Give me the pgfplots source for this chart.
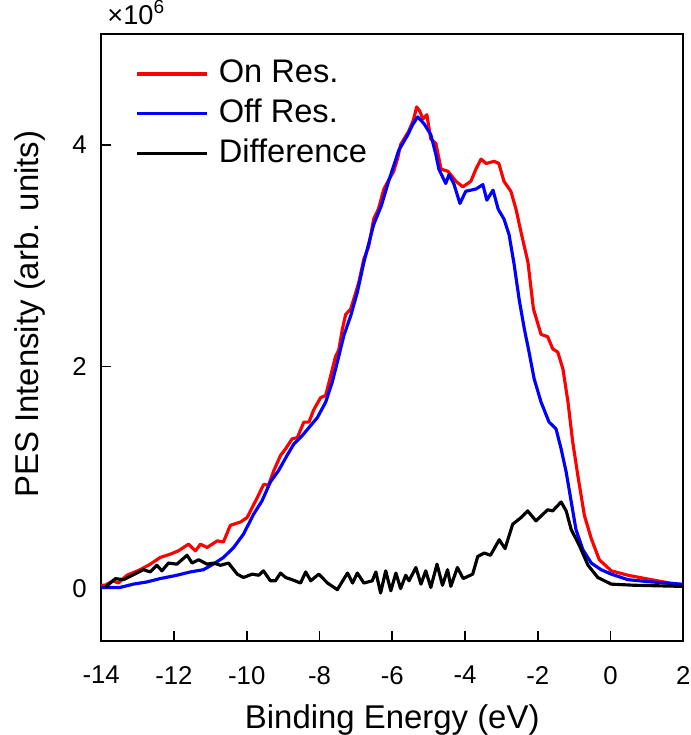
\documentclass[border=0pt]{standalone}
\usepackage{pgfplots}
\pgfplotsset{compat=1.18}
\usepackage{fontspec}
\setmainfont{Liberation Sans}
\definecolor{onres}{RGB}{255,0,0}
\definecolor{offres}{RGB}{0,0,255}
\begin{document}
\begin{tikzpicture}
\begin{axis}[
  name=ax,
  scale only axis,
  width=203.4pt, height=212.1pt,
  xmin=-14, xmax=2, ymin=-0.47, ymax=5.0,
  xtick={-14,-12,-10,-8,-6,-4,-2,0,2},
  ytick={0,2,4},
  xtick pos=bottom, ytick pos=left,
  tick align=inside,
  major tick length=3.5pt,
  axis line style={line width=0.6pt},
  tick style={line width=0.6pt, black},
  /pgf/number format/assume math mode=true,
  ticklabel style={font=\fontsize{9}{11}\selectfont, inner sep=0pt},
  xticklabel style={anchor=north, yshift=-8.7pt},
  yticklabel style={anchor=east, xshift=-4.9pt},
  xlabel={Binding Energy (eV)},
  ylabel={PES Intensity (arb. units)},
  label style={font=\fontsize{11.5}{13}\selectfont, inner sep=0pt},
  xlabel style={at={(axis description cs:0.5,-0.13)}, anchor=center},
  ylabel style={at={(axis description cs:-0.122,0.538)}, anchor=center},
  legend style={draw=none, fill=none, at={(axis description cs:0.058,0.958)}, anchor=north west,
    inner sep=0pt, row sep=3.9pt,
    nodes={inner sep=0pt, text height=8pt, text depth=2pt},
    font=\fontsize{11.4}{13}\selectfont,
    /tikz/every odd column/.append style={column sep=3.5pt}},
  legend cell align=left,
  legend image code/.code={\draw[#1] (0pt,0pt) -- (24.5pt,0pt);},
  every axis plot/.append style={line width=1.1pt, line join=round},
]
\addplot[onres] coordinates {
(-14.0,0.03) (-13.89,0.03) (-13.67,0.07) (-13.53,0.05) (-13.29,0.12) (-12.93,0.17)
(-12.65,0.22) (-12.38,0.28) (-12.10,0.31) (-11.88,0.34) (-11.60,0.40) (-11.41,0.34)
(-11.27,0.40) (-11.09,0.37) (-10.81,0.43) (-10.64,0.42) (-10.45,0.57) (-10.17,0.60)
(-9.99,0.64) (-9.71,0.82) (-9.53,0.94) (-9.40,0.93) (-9.26,1.06) (-9.07,1.20)
(-8.93,1.26) (-8.75,1.35) (-8.61,1.36) (-8.43,1.50) (-8.29,1.50) (-8.16,1.61)
(-7.97,1.72) (-7.83,1.74) (-7.69,1.92) (-7.56,2.09) (-7.47,2.15) (-7.37,2.34)
(-7.28,2.47) (-7.14,2.52) (-7.00,2.67) (-6.92,2.76) (-6.78,2.97) (-6.65,3.08)
(-6.51,3.33) (-6.38,3.42) (-6.23,3.60) (-6.10,3.68) (-5.96,3.76) (-5.85,3.88) (-5.77,4.00)
(-5.55,4.12) (-5.42,4.22) (-5.33,4.34) (-5.24,4.30) (-5.16,4.23) (-5.05,4.27) (-4.94,4.05)
(-4.80,4.01) (-4.66,3.78) (-4.47,3.76) (-4.25,3.67) (-4.06,3.62) (-3.84,3.67)
(-3.70,3.78) (-3.56,3.87) (-3.42,3.83) (-3.20,3.85) (-3.07,3.83) (-2.93,3.67)
(-2.74,3.58) (-2.60,3.42) (-2.46,3.21) (-2.27,2.94) (-2.12,2.52) (-1.91,2.29)
(-1.73,2.27) (-1.59,2.16) (-1.45,2.13) (-1.31,1.98) (-1.17,1.68) (-1.04,1.32)
(-0.90,1.02) (-0.72,0.66) (-0.53,0.45) (-0.31,0.26) (0.02,0.16) (0.48,0.12)
(1.12,0.08) (1.95,0.03) (2.0,0.03)
};
\addlegendentry{On Res.}
\addplot[offres] coordinates {
(-14.0,0.01) (-13.84,0.01) (-13.48,0.01) (-13.12,0.04) (-12.74,0.06) (-12.38,0.09)
(-11.92,0.12) (-11.55,0.15) (-11.19,0.17) (-10.92,0.22) (-10.64,0.28) (-10.36,0.37)
(-10.09,0.49) (-9.81,0.67) (-9.58,0.79) (-9.35,0.96) (-9.13,1.06) (-8.89,1.20)
(-8.71,1.30) (-8.47,1.38) (-8.24,1.47) (-8.06,1.54) (-7.83,1.68) (-7.65,1.86)
(-7.51,2.04) (-7.33,2.28) (-7.14,2.46) (-6.96,2.67) (-6.78,2.94) (-6.51,3.28)
(-6.30,3.45) (-6.10,3.67) (-5.82,3.95) (-5.57,4.09) (-5.44,4.18) (-5.30,4.25) (-5.13,4.19)
(-4.94,4.09) (-4.80,3.91) (-4.72,3.78) (-4.53,3.65) (-4.44,3.73) (-4.31,3.65)
(-4.14,3.47) (-3.98,3.58) (-3.84,3.59) (-3.70,3.60) (-3.51,3.64) (-3.40,3.50)
(-3.23,3.59) (-3.09,3.42) (-2.93,3.33) (-2.79,3.19) (-2.65,2.92) (-2.51,2.60)
(-2.37,2.34) (-2.24,2.13) (-2.10,1.89) (-1.91,1.68) (-1.69,1.50) (-1.50,1.44)
(-1.36,1.26) (-1.22,1.05) (-1.08,0.78) (-0.95,0.53) (-0.76,0.35) (-0.53,0.23)
(-0.26,0.17) (0.02,0.13) (0.48,0.08) (1.12,0.06) (1.95,0.04) (2.0,0.04)
};
\addlegendentry{Off Res.}
\addplot[black] coordinates {
(-13.89,0.01) (-13.61,0.09) (-13.39,0.08) (-13.02,0.14) (-12.84,0.17) (-12.65,0.15)
(-12.47,0.21) (-12.33,0.16) (-12.15,0.23) (-11.92,0.22) (-11.64,0.30) (-11.50,0.23)
(-11.32,0.26) (-11.09,0.22) (-10.91,0.23) (-10.72,0.21) (-10.50,0.23) (-10.26,0.13)
(-10.09,0.10) (-9.85,0.13) (-9.67,0.12) (-9.54,0.16) (-9.35,0.07) (-9.21,0.07)
(-9.07,0.14) (-8.93,0.10) (-8.75,0.08) (-8.52,0.05) (-8.38,0.15) (-8.24,0.07)
(-8.02,0.13) (-7.78,0.05) (-7.51,-0.01) (-7.23,0.14) (-7.09,0.05) (-6.96,0.14)
(-6.78,0.05) (-6.55,0.07) (-6.45,0.15) (-6.32,-0.04) (-6.18,0.16) (-6.04,-0.02)
(-5.90,0.14) (-5.77,0.00) (-5.63,0.12) (-5.54,0.07) (-5.35,0.19) (-5.21,0.04)
(-5.08,0.16) (-4.94,0.01) (-4.77,0.22) (-4.62,0.03) (-4.48,0.17) (-4.39,0.02)
(-4.21,0.19) (-4.05,0.09) (-3.79,0.13) (-3.65,0.29) (-3.47,0.32) (-3.30,0.30)
(-3.06,0.44) (-2.90,0.36) (-2.69,0.58) (-2.46,0.64) (-2.28,0.70) (-2.05,0.61)
(-1.73,0.71) (-1.59,0.70) (-1.36,0.78) (-1.22,0.70) (-1.08,0.53) (-0.86,0.39)
(-0.62,0.21) (-0.35,0.10) (0.02,0.04) (0.65,0.03) (1.95,0.02) (2.0,0.02)
};
\addlegendentry{Difference}
\end{axis}
\node[anchor=south west, inner sep=0pt, font=\fontsize{9.5}{11}\selectfont] at ([xshift=2pt,yshift=3pt]ax.north west) {×10\textsuperscript{6}};
\path ([xshift=-35.35pt]ax.south west) -- ([xshift=-35.35pt]ax.north west);
\end{tikzpicture}
\end{document}
